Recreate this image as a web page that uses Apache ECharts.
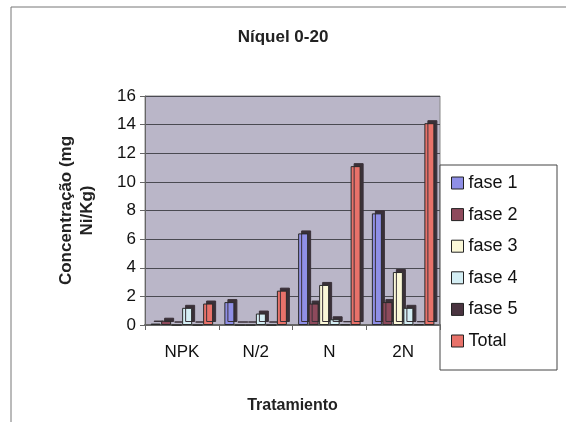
<!DOCTYPE html>
<html>
<head>
<meta charset="utf-8">
<script src="https://cdn.jsdelivr.net/npm/echarts@6/dist/echarts.min.js"></script>
<style>
  html, body { margin: 0; padding: 0; background: #fff; }
  #chart { width: 566px; height: 422px; }
</style>
</head>
<body>
<div id="chart"></div>
<script>
// Nickel concentration (0-20 cm layer) by treatment and extraction phase
var categories = ['NPK', 'N/2', 'N', '2N'];
var fase1 = [0.1, 1.6, 6.4, 7.8];
var fase2 = [0.3, 0.0, 1.5, 1.6];
var fase3 = [0.0, 0.0, 2.8, 3.7];
var fase4 = [1.2, 0.8, 0.4, 1.2];
var fase5 = [0.0, 0.0, 0.05, 0.05];
var total = [1.5, 2.4, 11.1, 14.1];
var yTicks = [0, 2, 4, 6, 8, 10, 12, 14, 16];

var seriesDefs = [
  { name: 'fase 1', data: fase1, color: '#8f8fe6' },
  { name: 'fase 2', data: fase2, color: '#8e4a5c' },
  { name: 'fase 3', data: fase3, color: '#fbf8d8' },
  { name: 'fase 4', data: fase4, color: '#d4eef4' },
  { name: 'fase 5', data: fase5, color: '#4a3440' },
  { name: 'Total', data: total, color: '#e8726a' }
];

var font = '"Liberation Sans", Arial, sans-serif';
var chart = echarts.init(document.getElementById('chart'), null, { renderer: 'canvas' });

chart.setOption({
  animation: false,
  backgroundColor: '#ffffff',
  textStyle: { fontFamily: font, color: '#111' },
  title: {
    text: 'Níquel 0-20',
    left: 'center',
    top: 24,
    textStyle: { fontFamily: font, fontSize: 17, fontWeight: 'bold', color: '#222' }
  },
  graphic: [
    {
      type: 'rect',
      shape: { x: 11, y: 7, width: 570, height: 430 },
      style: { fill: 'none', stroke: '#777', lineWidth: 1 },
      silent: true
    },
    {
      type: 'rect',
      shape: { x: 440, y: 165, width: 117, height: 205 },
      style: { fill: '#ffffff', stroke: '#444', lineWidth: 1 },
      silent: true,
      z: 0
    }
  ],
  legend: {
    orient: 'vertical',
    left: 446,
    top: 169,
    itemWidth: 12,
    itemHeight: 12,
    itemGap: 13.6,
    icon: 'rect',
    textStyle: { fontFamily: font, fontSize: 18, color: '#111' },
    itemStyle: { borderColor: '#222', borderWidth: 1, shadowBlur: 0, shadowOffsetX: 0, shadowOffsetY: 0, shadowColor: 'transparent' },
    data: seriesDefs.map(function (s) { return s.name; })
  },
  grid: {
    left: 145,
    right: 126,
    top: 96,
    bottom: 97,
    show: true,
    backgroundColor: '#bab6c8',
    borderColor: '#888',
    borderWidth: 1
  },
  xAxis: {
    type: 'category',
    data: categories,
    name: 'Tratamiento',
    nameLocation: 'middle',
    nameGap: 73,
    nameTextStyle: { fontFamily: font, fontSize: 16, fontWeight: 'bold', color: '#222' },
    axisLine: { lineStyle: { color: '#666', width: 2 } },
    axisTick: { show: true, length: 5, lineStyle: { color: '#666' } },
    axisLabel: { fontFamily: font, fontSize: 17, color: '#111', margin: 19 }
  },
  yAxis: {
    type: 'value',
    min: 0,
    max: 16,
    interval: 2,
    name: 'Concentração (mg\nNi/Kg)',
    nameLocation: 'middle',
    nameRotate: 90,
    nameGap: 47,
    nameTextStyle: { fontFamily: font, fontSize: 17, fontWeight: 'bold', color: '#222', lineHeight: 21 },
    axisLine: { show: true, lineStyle: { color: '#666' } },
    axisTick: { show: true, length: 5, lineStyle: { color: '#666' } },
    axisLabel: {
      fontFamily: font, fontSize: 17, color: '#111', margin: 9,
      formatter: function (v) { return yTicks.indexOf(v) >= 0 ? String(v) : ''; }
    },
    splitLine: { show: true, lineStyle: { color: '#4a4a52', width: 1 } }
  },
  series: seriesDefs.map(function (s) {
    return {
      name: s.name,
      type: 'bar',
      data: s.data,
      barWidth: 10,
      barGap: '5%',
      // dark offset shadow gives each column a shallow depth face
      itemStyle: {
        color: s.color, borderColor: '#2a2a2a', borderWidth: 1,
        shadowColor: '#3a3038', shadowBlur: 0, shadowOffsetX: 3, shadowOffsetY: -3
      }
    };
  })
});
</script>
</body>
</html>
